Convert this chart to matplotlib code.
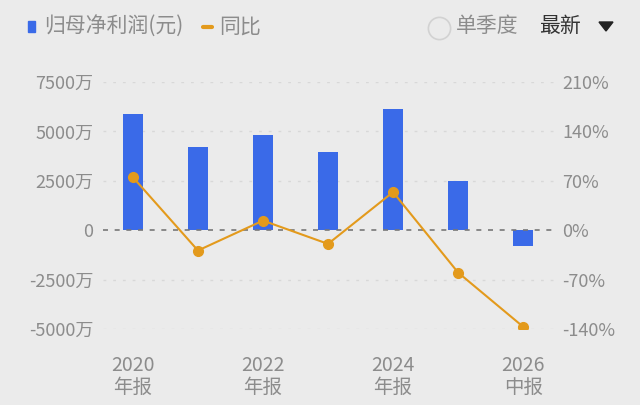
import matplotlib
matplotlib.use("Agg")
import matplotlib.pyplot as plt
from matplotlib.patches import Rectangle, Polygon
from matplotlib.lines import Line2D

plt.rcParams['font.family'] = ['Noto Sans CJK SC', 'DejaVu Sans']

categories = ['2020年报', '2021年报', '2022年报', '2023年报', '2024年报', '2025年报', '2026中报']
xtick_labels = ['2020\n年报', '', '2022\n年报', '', '2024\n年报', '', '2026\n中报']
profit_wan = [5860, 4210, 4830, 3940, 6150, 2480, -810]
yoy_pct = [75, -28.8, 13.6, -19.4, 54, -60, -136.8]
left_ticks = [-5000, -2500, 0, 2500, 5000, 7500]
left_labels = ['-5000万', '-2500万', '0', '2500万', '5000万', '7500万']
right_ticks = [-140, -70, 0, 70, 140, 210]
right_labels = ['-140%', '-70%', '0%', '70%', '140%', '210%']

BG = '#ebebeb'
BLUE = '#3a6ae8'
ORANGE = '#e39a1c'
GRAY = '#8c8c8c'

def fx(px):
    return px / 640

def fy(py):
    return 1 - py / 405

fig = plt.figure(figsize=(6.4, 4.05), dpi=100, facecolor=BG)
ax = fig.add_axes([fx(103), fy(329), fx(555 - 103), (329 - 82) / 405])
ax.set_facecolor(BG)
x = list(range(len(categories)))
ax.bar(x, profit_wan, width=0.3, color=BLUE, zorder=2)
ax.set_xlim(-0.46, 6.49)
ax.set_ylim(-5000, 7500)
ax.set_yticks(left_ticks)
ax.set_yticklabels(left_labels)
ax.set_xticks(x)
ax.set_xticklabels(xtick_labels, linespacing=1.05)
for t in left_ticks:
    if t == 0:
        ax.axhline(0, color='#777777', lw=1.2, ls=(0, (3, 4)), zorder=3)
    else:
        ax.axhline(t, color='#d8d8d8', lw=1.0, ls=(0, (2, 5)), zorder=1)
for s in ax.spines.values():
    s.set_visible(False)
ax.tick_params(axis='y', length=0, colors=GRAY, labelsize=13, pad=7)
ax.tick_params(axis='x', length=0, colors=GRAY, labelsize=14, pad=19)

ax2 = ax.twinx()
ax2.plot(x, yoy_pct, color=ORANGE, lw=1.5, marker='o', markersize=7, zorder=4)
ax2.set_ylim(-140, 210)
ax2.set_yticks(right_ticks)
ax2.set_yticklabels(right_labels)
for s in ax2.spines.values():
    s.set_visible(False)
ax2.tick_params(axis='y', length=0, colors=GRAY, labelsize=13, pad=5)

# Legend / header
fig.add_artist(Rectangle((fx(28), fy(32)), fx(7), 11 / 405, transform=fig.transFigure, color=BLUE))
fig.text(fx(44), fy(26.5), '归母净利润(元)', color=GRAY, fontsize=15, va='center')
fig.add_artist(Line2D([fx(203), fx(212)], [fy(26.5), fy(26.5)], transform=fig.transFigure,
                      color=ORANGE, lw=3, solid_capstyle='round'))
fig.text(fx(219), fy(26.5), '同比', color=GRAY, fontsize=15, va='center')
fig.add_artist(Line2D([fx(438.5)], [fy(28)], transform=fig.transFigure, marker='o', markersize=16,
                      markerfacecolor='none', markeredgecolor='#d2d2d2', markeredgewidth=1.2, ls='none'))
fig.text(fx(456), fy(26.5), '单季度', color=GRAY, fontsize=15, va='center')
fig.text(fx(539), fy(26.5), '最新', color='#333333', fontsize=15, va='center')
fig.add_artist(Polygon([(fx(599), fy(22)), (fx(613), fy(22)), (fx(606), fy(31))],
                       closed=True, transform=fig.transFigure, color='#222222'))

fig.savefig('out.png', dpi=100, facecolor=BG)
